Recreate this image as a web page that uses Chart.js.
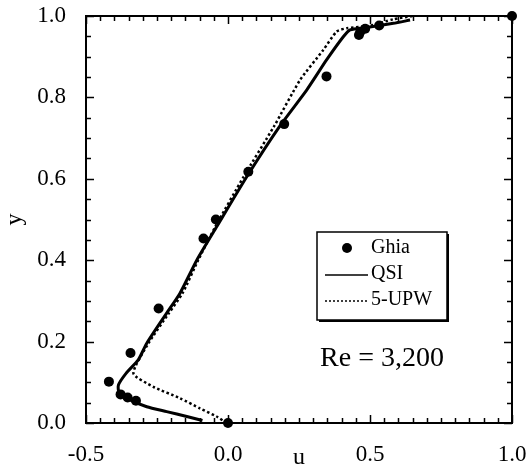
<!DOCTYPE html>
<html>
<head>
<meta charset="utf-8">
<script src="https://cdn.jsdelivr.net/npm/chart.js@4/dist/chart.umd.min.js"></script>
<style>
  html, body { margin: 0; padding: 0; background: #fff; }
  #wrap { width: 530px; height: 474px; }
</style>
</head>
<body>
<div id="wrap"><canvas id="grafico"></canvas></div>
<script>
// Ghia et al. reference points (Re = 3200)
const ghiaU = [1.0, 0.53236, 0.48296, 0.46547, 0.46101, 0.34682, 0.19791, 0.07156, -0.04272, -0.08636, -0.24427, -0.34323, -0.41933, -0.37827, -0.35344, -0.32407, 0.0];
const ghiaY = [1.0, 0.9766, 0.9688, 0.9609, 0.9531, 0.8516, 0.7344, 0.6172, 0.5, 0.4531, 0.2813, 0.1719, 0.1016, 0.0703, 0.0625, 0.0547, 0.0];

// QSI curve
const qsiU = [-0.09, -0.145, -0.216, -0.286, -0.345, -0.383, -0.386, -0.359, -0.316, -0.286, -0.216, -0.169, -0.110, -0.040, 0.066, 0.183, 0.277, 0.347, 0.406, 0.430, 0.488, 0.582, 0.641];
const qsiY = [0.006, 0.016, 0.028, 0.040, 0.057, 0.073, 0.093, 0.122, 0.155, 0.196, 0.270, 0.319, 0.400, 0.482, 0.605, 0.730, 0.818, 0.892, 0.949, 0.966, 0.972, 0.982, 0.990];

// 5-UPW curve
const upwU = [-0.005, -0.040, -0.099, -0.169, -0.263, -0.333, -0.280, -0.208, -0.160, -0.105, -0.045, 0.055, 0.163, 0.254, 0.335, 0.383, 0.418, 0.500, 0.582, 0.650];
const upwY = [0.0, 0.016, 0.036, 0.061, 0.089, 0.122, 0.196, 0.270, 0.319, 0.400, 0.482, 0.605, 0.730, 0.843, 0.916, 0.962, 0.970, 0.976, 0.992, 1.0];

const xTicks = [-0.5, 0.0, 0.5, 1.0];
const yTicks = [0.0, 0.2, 0.4, 0.6, 0.8, 1.0];
const serie = ["Ghia", "QSI", "5-UPW"];

const FONTE = "'Liberation Serif', 'DejaVu Serif', serif";

function pontos(us, ys) {
  return us.map((u, i) => ({ x: u, y: ys[i] }));
}

// moldura com marcas internas nos quatro lados
const moldura = {
  id: "moldura",
  beforeDatasetsDraw(chart) {
    const { ctx, chartArea: a, scales } = chart;
    const sx = scales.x, sy = scales.y;
    ctx.save();
    ctx.strokeStyle = "#000";
    ctx.lineWidth = 2;
    ctx.strokeRect(a.left, a.top, a.right - a.left, a.bottom - a.top);
    ctx.lineWidth = 1.5;
    ctx.beginPath();
    for (let i = 0; i <= 30; i++) {
      const v = -0.5 + i * 0.05;
      const px = Math.round(sx.getPixelForValue(v)) + 0.5;
      const len = i % 10 === 0 ? 8 : 5;
      ctx.moveTo(px, a.bottom); ctx.lineTo(px, a.bottom - len);
      ctx.moveTo(px, a.top); ctx.lineTo(px, a.top + len);
    }
    for (let i = 0; i <= 20; i++) {
      const v = i * 0.05;
      const py = Math.round(sy.getPixelForValue(v)) + 0.5;
      const len = i % 4 === 0 ? 8 : 5;
      ctx.moveTo(a.left, py); ctx.lineTo(a.left + len, py);
      ctx.moveTo(a.right, py); ctx.lineTo(a.right - len, py);
    }
    ctx.stroke();
    ctx.restore();
  },
  afterDatasetsDraw(chart) {
    const { ctx } = chart;
    const ds = chart.data.datasets;
    ctx.save();
    // caixa da legenda
    const bx = 317, by = 232, bw = 130, bh = 88;
    ctx.fillStyle = "#fff";
    ctx.fillRect(bx, by, bw, bh);
    ctx.strokeStyle = "#000";
    ctx.lineWidth = 1.5;
    ctx.strokeRect(bx, by, bw, bh);
    ctx.fillStyle = "#000";
    ctx.fillRect(bx + 2, by + bh, bw, 2);
    ctx.fillRect(bx + bw, by + 2, 2, bh);

    ctx.font = "20px " + FONTE;
    ctx.textBaseline = "middle";
    ctx.textAlign = "left";
    const rows = [248, 274, 300];
    rows.forEach((ry, i) => {
      const d = ds[i];
      if (i === 0) {
        ctx.beginPath();
        ctx.arc(347, ry, d.pointRadius, 0, Math.PI * 2);
        ctx.fillStyle = d.backgroundColor;
        ctx.fill();
      } else {
        ctx.beginPath();
        ctx.setLineDash(i === 2 ? [2, 2] : []);
        ctx.strokeStyle = d.borderColor;
        ctx.lineWidth = 1.5;
        ctx.moveTo(325, ry + 1); ctx.lineTo(368, ry + 1);
        ctx.stroke();
        ctx.setLineDash([]);
      }
      ctx.fillStyle = "#000";
      ctx.fillText(d.label, 371, ry);
    });

    ctx.font = "28px " + FONTE;
    ctx.textAlign = "center";
    ctx.textBaseline = "alphabetic";
    ctx.fillText("Re = 3,200", 382, 366);
    ctx.restore();
  }
};

const ctx = document.getElementById("grafico").getContext("2d");
new Chart(ctx, {
  type: "scatter",
  data: {
    datasets: [
      {
        label: serie[0],
        data: pontos(ghiaU, ghiaY),
        showLine: false,
        pointRadius: 5,
        pointHoverRadius: 5,
        backgroundColor: "#000",
        borderWidth: 0,
        clip: false
      },
      {
        label: serie[1],
        data: pontos(qsiU, qsiY),
        showLine: true,
        pointRadius: 0,
        borderColor: "#000",
        borderWidth: 3,
        tension: 0.2,
        fill: false
      },
      {
        label: serie[2],
        data: pontos(upwU, upwY),
        showLine: true,
        pointRadius: 0,
        borderColor: "#000",
        borderWidth: 2.5,
        borderDash: [2.5, 2.5],
        tension: 0.2,
        fill: false
      }
    ]
  },
  options: {
    responsive: true,
    maintainAspectRatio: false,
    animation: false,
    layout: { padding: { top: 16, right: 18, left: 0, bottom: 0 } },
    plugins: {
      legend: { display: false },
      tooltip: { enabled: false }
    },
    scales: {
      x: {
        type: "linear",
        min: -0.5,
        max: 1.0,
        afterBuildTicks: s => { s.ticks = xTicks.map(v => ({ value: v })); },
        afterFit: s => { s.height = 51; s.paddingLeft = 0; s.paddingRight = 0; },
        grid: { display: false },
        border: { display: false },
        ticks: {
          color: "#000",
          padding: 10,
          maxRotation: 0,
          font: { family: FONTE, size: 23 },
          callback: v => v.toFixed(1)
        },
        title: {
          display: true,
          text: "u",
          color: "#000",
          padding: { top: 0, bottom: 2 },
          font: { family: FONTE, size: 24 }
        }
      },
      y: {
        type: "linear",
        min: 0,
        max: 1.0,
        afterBuildTicks: s => { s.ticks = yTicks.map(v => ({ value: v })); },
        afterFit: s => { s.width = 86; s.paddingTop = 0; s.paddingBottom = 0; },
        grid: { display: false },
        border: { display: false },
        ticks: {
          color: "#000",
          padding: 12,
          font: { family: FONTE, size: 23 },
          callback: v => v.toFixed(1)
        },
        title: {
          display: true,
          text: "y",
          color: "#000",
          padding: { top: 0, bottom: 0 },
          font: { family: FONTE, size: 24 }
        }
      }
    }
  },
  plugins: [moldura]
});
</script>
</body>
</html>
